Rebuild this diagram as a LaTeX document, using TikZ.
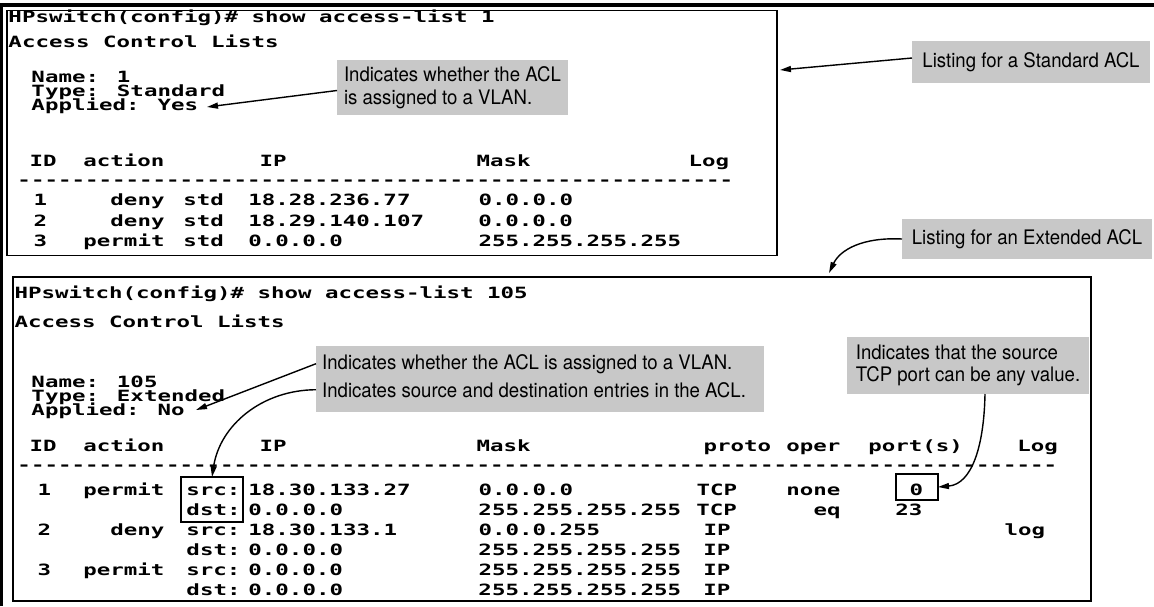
\documentclass[tikz,border=0pt]{standalone}
\usepackage{fontspec}
\usetikzlibrary{arrows.meta}
\newfontfamily\termfont{DejaVu Sans Mono Bold}[FakeStretch=1.447]
\newfontfamily\callfont{TeX Gyre Heros}[FakeStretch=0.93]
\definecolor{callgray}{RGB}{200,200,200}
\newcommand\TF{\termfont\fontsize{15.5pt}{17pt}\selectfont}
\newcommand\CF{\callfont\fontsize{20pt}{22.5pt}\selectfont}
\newcommand\tcol[2]{\rlap{\hspace*{#1pt}#2}}
\newcommand\dashrow[1]{\foreach \i in {1,...,#1}{-}}
\tikzset{
  row/.style={font=\TF, inner sep=0, outer sep=0, anchor=base west},
  frame/.style={draw, line width=1.5, inner sep=0, outer sep=0, anchor=north west},
  hibox/.style={draw, line width=1.3, inner sep=0, outer sep=0},
  callout/.style={fill=callgray, font=\CF, align=left, inner xsep=7, inner ysep=4, outer sep=0, anchor=north west},
  ctext/.style={font=\CF, inner sep=0, anchor=base west},
  arr/.style={line width=1.4, -{Triangle[length=11,width=6]}}
}
\begin{document}
\begin{tikzpicture}[x=1pt,y=-1pt]
\useasboundingbox (0,0) rectangle (1154,606);
% outer rules
\draw[line width=2.7] (1.35,606) -- (1.35,4);
\draw[line width=4] (0,5.3) -- (1154,5.3);
% terminal frames
\node[frame, minimum width=770, minimum height=245] (topbox) at (7,10.5) {};
\node[frame, minimum width=1078, minimum height=324] (botbox) at (13,277) {};

% ---- top listing
\node[row] (t1) at (0,22.6) {\tcol{8}{HPswitch(config)\# show access-list 1}};
\node[row] (t2) at (0,47.6) {\tcol{8}{Access Control Lists}};
\node[row] (t3) at (0,82.6) {\tcol{31}{Name: 1}};
\node[row] (t4) at (0,96.6) {\tcol{31}{Type: Standard}};
\node[row] (t5) at (0,110.6) {\tcol{31}{Applied: Yes}};
\node[row] (t6) at (0,166.6) {\tcol{29}{ID}\tcol{83}{action}\tcol{259}{IP}\tcol{476}{Mask}\tcol{688}{Log}};
\node[row] (t7) at (0,185) {\tcol{17}{\dashrow{53}}};
\node[row] (t8) at (0,205.6) {\tcol{33}{1}\tcol{110}{deny}\tcol{183}{std}\tcol{248}{18.28.236.77}\tcol{478}{0.0.0.0}};
\node[row] (t9) at (0,226) {\tcol{33}{2}\tcol{110}{deny}\tcol{183}{std}\tcol{248}{18.29.140.107}\tcol{478}{0.0.0.0}};
\node[row] (t10) at (0,246.6) {\tcol{33}{3}\tcol{83}{permit}\tcol{183}{std}\tcol{248}{0.0.0.0}\tcol{478}{255.255.255.255}};

% ---- bottom listing
\node[row] (b1) at (0,298.6) {\tcol{14}{HPswitch(config)\# show access-list 105}};
\node[row] (b2) at (0,327.6) {\tcol{14}{Access Control Lists}};
\node[row] (b3) at (0,387.6) {\tcol{31}{Name: 105}};
\node[row] (b4) at (0,401.6) {\tcol{31}{Type: Extended}};
\node[row] (b5) at (0,415.6) {\tcol{31}{Applied: No}};
\node[row] (b6) at (0,451.6) {\tcol{29}{ID}\tcol{83}{action}\tcol{259}{IP}\tcol{476}{Mask}\tcol{703}{proto}\tcol{786}{oper}\tcol{868}{port(s)}\tcol{1017}{Log}};
\node[row] (b7) at (0,470) {\tcol{17}{\dashrow{77}}};
\node[row] (b8) at (0,495.6) {\tcol{37}{1}\tcol{83}{permit}\tcol{186}{src:}\tcol{248}{18.30.133.27}\tcol{478}{0.0.0.0}\tcol{696}{TCP}\tcol{786}{none}\tcol{909}{0}};
\node[row] (b9) at (0,515.6) {\tcol{186}{dst:}\tcol{248}{0.0.0.0}\tcol{478}{255.255.255.255}\tcol{696}{TCP}\tcol{813}{eq}\tcol{895}{23}};
\node[row] (b10) at (0,535.6) {\tcol{37}{2}\tcol{110}{deny}\tcol{186}{src:}\tcol{248}{18.30.133.1}\tcol{478}{0.0.0.255}\tcol{703}{IP}\tcol{1004}{log}};
\node[row] (b11) at (0,555.6) {\tcol{186}{dst:}\tcol{248}{0.0.0.0}\tcol{478}{255.255.255.255}\tcol{703}{IP}};
\node[row] (b12) at (0,575.6) {\tcol{37}{3}\tcol{83}{permit}\tcol{186}{src:}\tcol{248}{0.0.0.0}\tcol{478}{255.255.255.255}\tcol{703}{IP}};
\node[row] (b13) at (0,595.6) {\tcol{186}{dst:}\tcol{248}{0.0.0.0}\tcol{478}{255.255.255.255}\tcol{703}{IP}};

% highlight boxes
\node[hibox, minimum width=62, minimum height=45] (sdbox) at (212,499.5) {};
\node[hibox, minimum width=42, minimum height=26] (zbox) at (917,487) {};

% ---- callouts
\node[callout, minimum width=238, minimum height=42] (cStd) at (912,41) {Listing for a Standard ACL};
\node[callout, minimum width=250, minimum height=40] (cExt) at (902,219) {Listing for an Extended ACL};
\node[callout, minimum width=228, minimum height=55] (cA) at (337,60) {Indicates whether the ACL\\is assigned to a VLAN.};
\node[fill=callgray, inner sep=0, outer sep=0, anchor=north west, minimum width=448, minimum height=66] (cBbox) at (316,346) {};
\node[ctext] (cB1) at (322,369) {Indicates whether the ACL is assigned to a VLAN.};
\node[ctext] (cB2) at (322,397) {Indicates source and destination entries in the ACL.};
\node[callout, minimum width=242, minimum height=57] (cC) at (847,337) {Indicates that the source\\TCP port can be any value.};

% arrow targets
\coordinate (stdtip) at (780,70);
\coordinate (exttip) at (829,273);
\coordinate (atip) at (207,107);
\coordinate (btip) at (196,410);
\coordinate (ccstart) at (985,394);

% ---- connectors
\draw[arr] ([yshift=4]cStd.west) -- (stdtip);
\draw[arr] (cExt.west) .. controls (862,237) and (840,250) .. (exttip);
\draw[arr] ([yshift=-3]cA.west) -- (atip);
\draw[arr] (cBbox.west |- cB1.west) -- (btip);
\draw[arr] (cBbox.west |- cB2.west) .. controls (262,390) and (220,425) .. (sdbox.north);
\draw[arr] (ccstart) .. controls (984,446) and (972,484) .. (zbox.east);
\end{tikzpicture}
\end{document}
